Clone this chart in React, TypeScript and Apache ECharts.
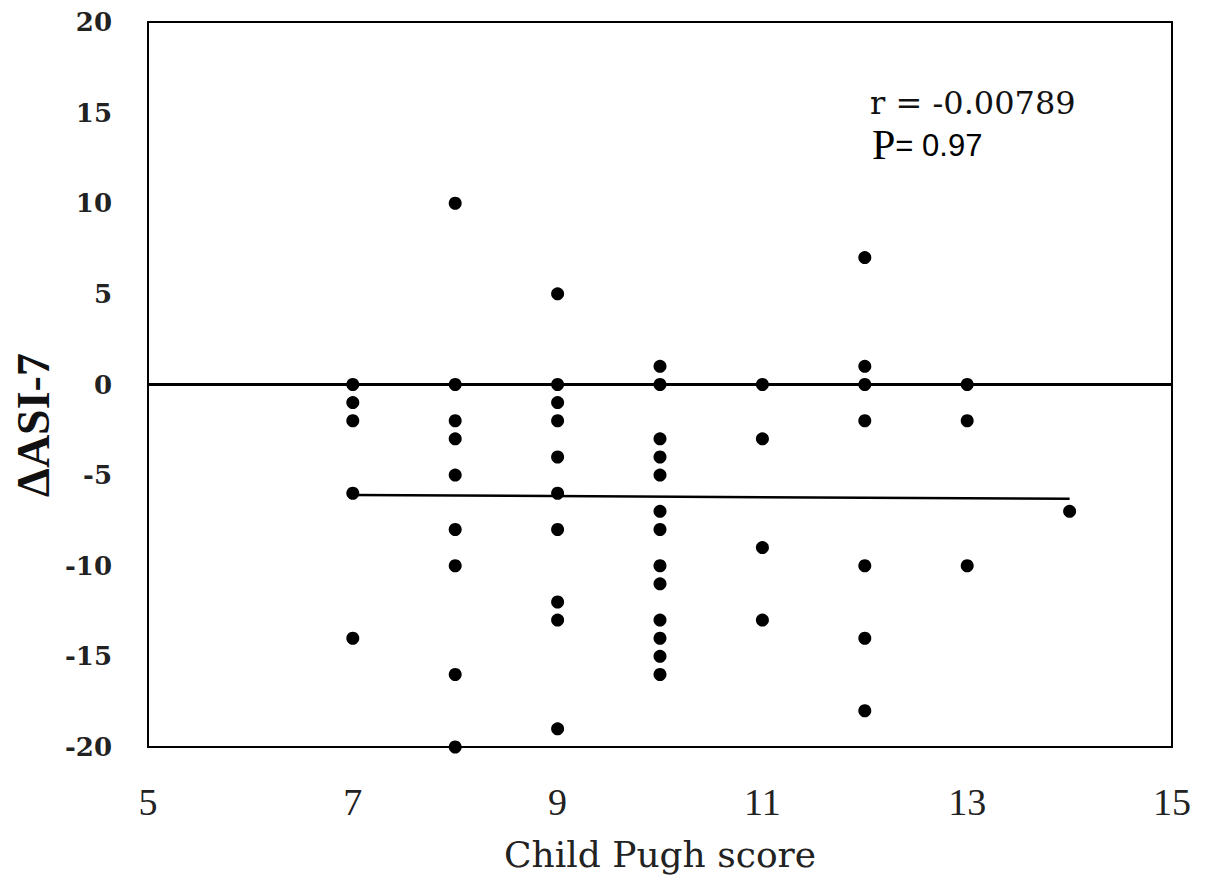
import React, { useEffect, useRef } from "react";
import * as echarts from "echarts";

const xTicks = [5, 7, 9, 11, 13, 15];
const yTicks = [-20, -15, -10, -5, 0, 5, 10, 15, 20];

// Child Pugh score (x) and ΔASI-7 (y) per patient
const scoreX = [
  7, 7, 7, 7, 7,
  8, 8, 8, 8, 8, 8, 8, 8, 8,
  9, 9, 9, 9, 9, 9, 9, 9, 9, 9,
  10, 10, 10, 10, 10, 10, 10, 10, 10, 10, 10, 10, 10,
  11, 11, 11, 11,
  12, 12, 12, 12, 12, 12, 12,
  13, 13, 13,
  14,
];
const deltaY = [
  0, -1, -2, -6, -14,
  10, 0, -2, -3, -5, -8, -10, -16, -20,
  5, 0, -1, -2, -4, -6, -8, -12, -13, -19,
  1, 0, -3, -4, -5, -7, -8, -10, -11, -13, -14, -15, -16,
  0, -3, -9, -13,
  7, 1, 0, -2, -10, -14, -18,
  0, -2, -10,
  -7,
];

// regression line endpoints
const trendX = [7, 14];
const trendY = [-6.1, -6.3];

const rText = "r = -0.00789";
const pLabel = "P";
const pValue = "= 0.97";

export default function App() {
  const ref = useRef<HTMLDivElement>(null);
  useEffect(() => {
    if (!ref.current) return;
    const chart = echarts.init(ref.current, null, { renderer: "svg" });
    const points = scoreX.map((x, i) => [x, deltaY[i]]);
    chart.setOption({
      animation: false,
      backgroundColor: "#ffffff",
      grid: {
        left: 148,
        right: 33,
        top: 22,
        bottom: 149,
        show: true,
        borderColor: "#000",
        borderWidth: 2,
        backgroundColor: "transparent",
      },
      xAxis: {
        type: "value",
        min: 5,
        max: 15,
        interval: 2,
        axisLine: { show: false },
        axisTick: { show: false },
        splitLine: { show: false },
        axisLabel: {
          margin: 36,
          fontFamily: "Liberation Serif",
          fontSize: 38,
          color: "#222",
          formatter: (v: number) => (xTicks.includes(v) ? String(v) : ""),
        },
        name: "Child Pugh score",
        nameLocation: "middle",
        nameGap: 89,
        nameTextStyle: {
          fontFamily: "DejaVu Serif",
          fontSize: 36,
          color: "#222",
        },
      },
      yAxis: {
        type: "value",
        min: -20,
        max: 20,
        interval: 5,
        axisLine: { show: false },
        axisTick: { show: false },
        splitLine: { show: false },
        axisLabel: {
          margin: 36,
          fontFamily: "DejaVu Serif",
          fontWeight: "bold",
          fontSize: 26,
          color: "#222",
          formatter: (v: number) => (yTicks.includes(v) ? String(v) : ""),
        },
      },
      graphic: [
        {
          type: "text",
          x: 33,
          y: 425,
          rotation: Math.PI / 2,
          style: {
            text: "ΔASI-7",
            fontFamily: "Liberation Serif",
            fontWeight: "bold",
            fontSize: 46,
            fill: "#111",
            align: "center",
            verticalAlign: "middle",
          },
        },
        {
          type: "text",
          x: 870,
          y: 103,
          style: {
            text: rText,
            fontFamily: "DejaVu Serif",
            fontSize: 32,
            fill: "#111",
            align: "left",
            verticalAlign: "middle",
          },
        },
        {
          type: "text",
          x: 872,
          y: 145,
          style: {
            text: "{p|" + pLabel + "}{v|" + pValue + "}",
            align: "left",
            verticalAlign: "middle",
            rich: {
              p: { fontFamily: "Liberation Serif", fontSize: 42, color: "#111" },
              v: { fontFamily: "Liberation Sans", fontSize: 31, color: "#111" },
            },
          },
        },
      ],
      series: [
        {
          type: "line",
          data: [],
          markLine: {
            silent: true,
            symbol: "none",
            label: { show: false },
            lineStyle: { color: "#000", width: 3, type: "solid" },
            data: [{ yAxis: 0 }],
          },
        },
        {
          type: "line",
          data: trendX.map((x, i) => [x, trendY[i]]),
          symbol: "none",
          lineStyle: { color: "#000", width: 2.5 },
          z: 3,
        },
        {
          type: "scatter",
          data: points,
          symbol: "circle",
          symbolSize: 13,
          itemStyle: { color: "#000", opacity: 1 },
          z: 4,
        },
      ],
    });
    return () => chart.dispose();
  }, []);
  return <div ref={ref} style={{ width: 1205, height: 896, margin: -8 }} />;
}
